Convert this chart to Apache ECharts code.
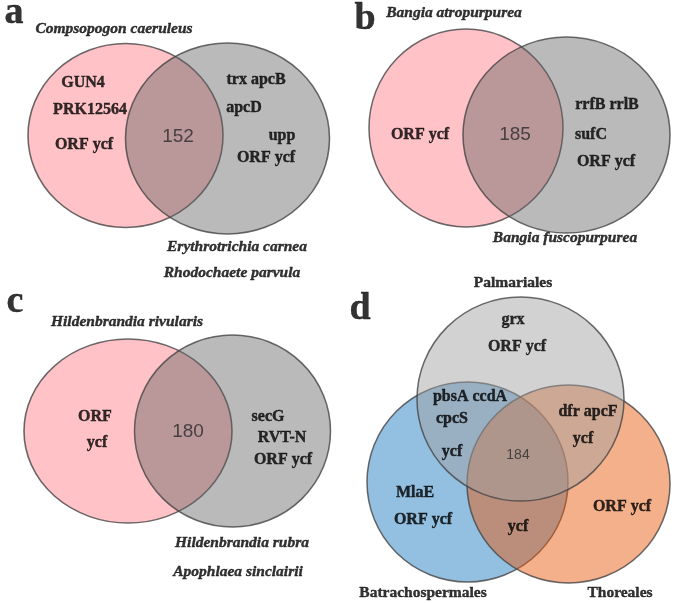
<!DOCTYPE html>
<html>
<head>
<meta charset="utf-8">
<script src="https://cdn.jsdelivr.net/npm/echarts@6/dist/echarts.min.js"></script>
<style>html,body{margin:0;padding:0;background:#fff}#c{width:675px;height:603px}</style>
</head>
<body>
<div id="c"></div>
<script>
// ---------- DATA ----------
const panelLetters = ['a', 'b', 'c', 'd'];
const sharedCounts = [152, 185, 180, 184];

const speciesA = ['Compsopogon caeruleus', 'Erythrotrichia carnea', 'Rhodochaete parvula'];
const genesALeft = ['GUN4', 'PRK12564', 'ORF ycf'];
const genesARight = ['trx apcB', 'apcD', 'upp', 'ORF ycf'];

const speciesB = ['Bangia atropurpurea', 'Bangia fuscopurpurea'];
const genesBLeft = ['ORF ycf'];
const genesBRight = ['rrfB rrlB', 'sufC', 'ORF ycf'];

const speciesC = ['Hildenbrandia rivularis', 'Hildenbrandia rubra', 'Apophlaea sinclairii'];
const genesCLeft = ['ORF', 'ycf'];
const genesCRight = ['secG', 'RVT-N', 'ORF ycf'];

const ordersD = ['Palmariales', 'Batrachospermales', 'Thoreales'];
const genesDTop = ['grx', 'ORF ycf'];
const genesDTopLeft = ['pbsA ccdA', 'cpcS', 'ycf'];
const genesDTopRight = ['dfr apcF', 'ycf'];
const genesDLeft = ['MlaE', 'ORF ycf'];
const genesDRight = ['ORF ycf'];
const genesDBottom = ['ycf'];

// ---------- LAYOUT (positions / sizes / styles) ----------
const PINK = '#FFB3B8';
const GREY2 = 'rgba(96,96,96,0.54)';
const BLUE = '#78AFD8';
const ORANGE = 'rgba(233,87,13,0.6)';
const GREY3 = 'rgba(160,160,160,0.6)';
const STROKE = '#454545';

// circle layout: [cx, cy, rx, ry, fill]
const circleLayout = [
  [125.5, 135.5, 97.5, 92, PINK],
  [227.5, 138.5, 102, 95.5, GREY2],
  [466, 128, 97, 99, PINK],
  [566.5, 135, 103.5, 98, GREY2],
  [128, 431, 104, 92, PINK],
  [232.5, 431, 98, 96, GREY2],
  [467.5, 482, 100.5, 100, BLUE],
  [568.5, 484, 101.5, 99, ORANGE],
  [520.5, 399, 103.5, 102, GREY3]
];

const letterPos = [[14, 13], [365, 19], [15, 302], [360, 309]];
const countPos = [[178, 137], [515, 135], [188, 432], [518, 455]];
const countSize = [19, 19, 19, 14];

const posSpeciesA = [[114, 29], [237, 247], [232, 273]];
const posGenesALeft = [[83, 83], [90, 110], [84, 145]];
const posGenesARight = [[256, 80], [244, 108], [282, 136], [266, 158]];

const posSpeciesB = [[454, 13], [565, 238]];
const posGenesBLeft = [[420, 135]];
const posGenesBRight = [[607, 105], [591, 135], [606, 162]];

const posSpeciesC = [[127, 322], [242, 543], [238, 572]];
const posGenesCLeft = [[95, 417], [97, 443]];
const posGenesCRight = [[268, 417], [282, 438], [283, 460]];

const posOrdersD = [[513, 283], [423, 593], [620, 593]];
const posGenesDTop = [[513, 320], [517, 347]];
const posGenesDTopLeft = [[470, 397], [452, 419], [452, 452]];
const posGenesDTopRight = [[588, 412], [583, 439]];
const posGenesDLeft = [[415, 493], [423, 520]];
const posGenesDRight = [[622, 507]];
const posGenesDBottom = [[518, 527]];

// ---------- BUILD ----------
const SERIF = '"Liberation Serif","Times New Roman",serif';
const SANS = '"Liberation Sans",Arial,sans-serif';

const circleData = circleLayout.map(c => ({
  value: [c[0], c[1]],
  symbolSize: [c[2] * 2, c[3] * 2],
  itemStyle: { color: c[4], borderColor: STROKE, borderWidth: 1.5 }
}));

const labelData = [];
function addText(texts, positions, style) {
  texts.forEach((t, i) => {
    labelData.push({
      name: String(t),
      value: positions[i],
      label: Object.assign({
        color: '#000', fontFamily: SERIF, fontWeight: 'bold', fontSize: 16,
        textBorderColor: '#000', textBorderWidth: 0.4
      }, style)
    });
  });
}
addText(panelLetters, letterPos, { fontSize: 38 });
sharedCounts.forEach((n, i) => addText([n], [countPos[i]], {
  fontFamily: SANS, fontWeight: 'normal', fontSize: countSize[i],
  color: '#2a2a2a', textBorderWidth: 0
}));
const ital = { fontStyle: 'italic', fontSize: 15.5 };
addText(speciesA, posSpeciesA, ital);
addText(genesALeft, posGenesALeft, {});
addText(genesARight, posGenesARight, {});
addText(speciesB, posSpeciesB, ital);
addText(genesBLeft, posGenesBLeft, {});
addText(genesBRight, posGenesBRight, {});
addText(speciesC, posSpeciesC, ital);
addText(genesCLeft, posGenesCLeft, {});
addText(genesCRight, posGenesCRight, {});
addText(ordersD, posOrdersD, { fontSize: 15.5 });
addText(genesDTop, posGenesDTop, {});
addText(genesDTopLeft, posGenesDTopLeft, {});
addText(genesDTopRight, posGenesDTopRight, {});
addText(genesDLeft, posGenesDLeft, {});
addText(genesDRight, posGenesDRight, {});
addText(genesDBottom, posGenesDBottom, {});

const chart = echarts.init(document.getElementById('c'), null, { renderer: 'canvas' });
chart.setOption({
  animation: false,
  backgroundColor: '#fff',
  grid: { left: 0, right: 0, top: 0, bottom: 0 },
  xAxis: { type: 'value', min: 0, max: 675, show: false },
  yAxis: { type: 'value', min: 0, max: 603, inverse: true, show: false },
  series: [
    { type: 'scatter', symbol: 'circle', data: circleData, silent: true, z: 1 },
    {
      type: 'scatter', symbol: 'circle', symbolSize: 1, silent: true, z: 3,
      itemStyle: { color: 'rgba(0,0,0,0)' },
      label: { show: true, position: 'inside', formatter: '{b}' },
      data: labelData
    }
  ]
});
</script>
</body>
</html>
